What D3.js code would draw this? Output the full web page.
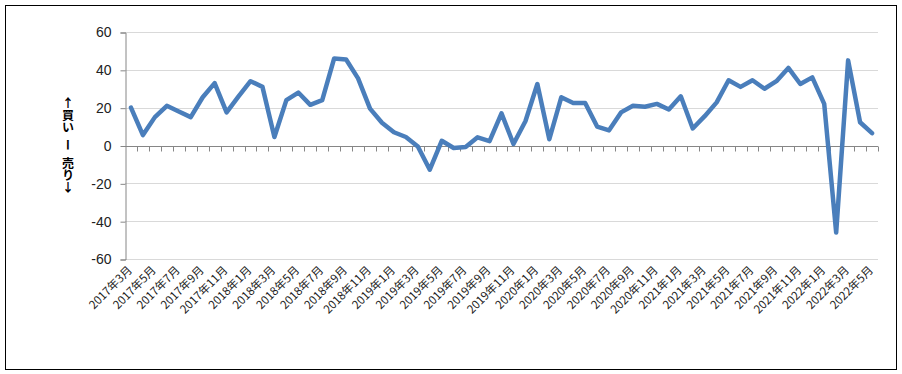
<!DOCTYPE html>
<html><head><meta charset="utf-8">
<script src="https://cdn.jsdelivr.net/npm/d3@7"></script>
<style>
html,body{margin:0;padding:0;background:#fff;}
svg{display:block;}
</style></head>
<body>
<svg id="chart" width="902" height="374"></svg>
<script>
// ---- data ----
const months = [
  "2017年3月","2017年4月","2017年5月","2017年6月","2017年7月","2017年8月","2017年9月","2017年10月","2017年11月","2017年12月",
  "2018年1月","2018年2月","2018年3月","2018年4月","2018年5月","2018年6月","2018年7月","2018年8月","2018年9月","2018年10月","2018年11月","2018年12月",
  "2019年1月","2019年2月","2019年3月","2019年4月","2019年5月","2019年6月","2019年7月","2019年8月","2019年9月","2019年10月","2019年11月","2019年12月",
  "2020年1月","2020年2月","2020年3月","2020年4月","2020年5月","2020年6月","2020年7月","2020年8月","2020年9月","2020年10月","2020年11月","2020年12月",
  "2021年1月","2021年2月","2021年3月","2021年4月","2021年5月","2021年6月","2021年7月","2021年8月","2021年9月","2021年10月","2021年11月","2021年12月",
  "2022年1月","2022年2月","2022年3月","2022年4月","2022年5月"
];
const values = [
  20, 5.5, 15, 21, 18, 15, 25.5, 33, 17.5, 26,
  34, 31, 4.5, 24, 28, 21.5, 24, 46, 45.5, 35.5, 19.5, 12,
  7, 4.5, -0.5, -12.8, 2.5, -1.3, -0.8, 4.3, 2.3, 17, 0.8, 12.8,
  32.5, 3.3, 25.5, 22.5, 22.5, 10, 8, 17.5, 21, 20.5, 22, 19,
  26, 9, 15.5, 22.8, 34.5, 31, 34.5, 30, 34, 41, 32.5, 36,
  22, -46, 45, 12.3, 6.5
];
const yTicks = [60, 40, 20, 0, -20, -40, -60];
const yTitleParts = ["↑買い", " ", "ー", " ", "売り↓"];

// ---- layout ----
const svg = d3.select("#chart");
const pLeft = 125, pRight = 878, pTop = 32, pBottom = 259;

svg.append("rect").attr("x",5.5).attr("y",5.5).attr("width",891).attr("height",364)
  .attr("fill","#fff").attr("stroke","#000").attr("stroke-width",1);

const x = d3.scaleBand().domain(months).range([pLeft, pRight]).padding(0);
const y = d3.scaleLinear().domain([-60, 60]).range([pBottom, pTop]);

// gridlines
svg.append("g").selectAll("line").data(yTicks.filter(d=>d!==0)).join("line")
  .attr("x1",pLeft).attr("x2",pRight)
  .attr("y1",d=>Math.round(y(d))+0.5).attr("y2",d=>Math.round(y(d))+0.5)
  .attr("stroke","#d9d9d9").attr("stroke-width",1);

// y axis
const yAxis = d3.axisLeft(y).tickValues(yTicks).tickSize(5).tickPadding(9).tickFormat(d=>String(d));
const gy = svg.append("g").attr("transform",`translate(${pLeft+0.5},0.5)`).call(yAxis);
gy.select(".domain").attr("stroke","#868686");
gy.selectAll(".tick line").attr("stroke","#868686");
gy.selectAll(".tick text").attr("font-family","'Liberation Sans', Arial, sans-serif")
  .attr("font-size",14).attr("fill","#222");

// x axis at zero
const y0 = Math.round(y(0))+0.5;
svg.append("line").attr("x1",pLeft).attr("x2",pRight).attr("y1",y0).attr("y2",y0)
  .attr("stroke","#868686").attr("stroke-width",1);
const bounds = months.map(m=>x(m)).concat([pRight]);
svg.append("g").selectAll("line").data(bounds.slice(1)).join("line")
  .attr("x1",d=>Math.round(d)+0.5).attr("x2",d=>Math.round(d)+0.5)
  .attr("y1",y0).attr("y2",y0+5).attr("stroke","#868686");

// x labels
svg.append("g").selectAll("text").data(months.filter((d,i)=>i%2===0)).join("text")
  .attr("transform",d=>`translate(${x(d)+x.bandwidth()/2-1},268) rotate(-45)`)
  .attr("text-anchor","end").attr("dy","0.35em")
  .attr("font-family","'Noto Sans CJK JP', sans-serif").attr("font-size",11.5).attr("fill","#222")
  .text(d=>d);

// line
const line = d3.line().x((d,i)=>x(months[i])+x.bandwidth()/2).y(d=>y(d));
svg.append("path").datum(values).attr("d",line)
  .attr("fill","none").attr("stroke","#4a7ebb").attr("stroke-width",4.5)
  .attr("stroke-linejoin","round").attr("stroke-linecap","round");

// y title (vertical writing, one text element)
const title = svg.append("text").attr("x",68).attr("y",97)
  .style("writing-mode","vertical-rl").style("text-orientation","upright")
  .attr("font-family","'Noto Sans CJK JP', sans-serif").attr("font-weight","bold")
  .attr("fill","#000").attr("font-size",12);
title.selectAll("tspan").data(yTitleParts).join("tspan")
  .attr("font-size",d=> d===" " ? 6 : 12)
  .style("white-space","pre")
  .text(d=>d);
</script>
</body></html>
